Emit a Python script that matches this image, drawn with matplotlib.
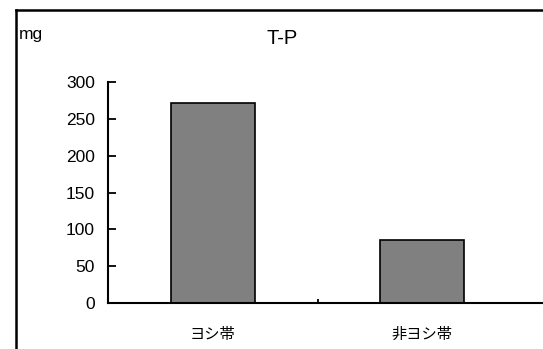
import matplotlib
matplotlib.use("Agg")
import matplotlib.pyplot as plt
from matplotlib.lines import Line2D

plt.rcParams['font.family'] = ['Liberation Sans', 'Noto Sans CJK JP', 'DejaVu Sans']

categories = ["ヨシ帯", "非ヨシ帯"]
values = [272, 86]
y_ticks = [0, 50, 100, 150, 200, 250, 300]

W, H = 543, 349
fig = plt.figure(figsize=(W / 100, H / 100), dpi=100)

# plot area in pixels: left 108, bottom 303, top 82; it runs past the right edge
left, right, top, bottom = 108, 570, 82, 303
ax = fig.add_axes([left / W, 1 - bottom / H, (right - left) / W, (bottom - top) / H])

x = list(range(len(categories)))
ax.bar(x, values, width=0.4, color="#808080", edgecolor="black", linewidth=1.2)

cat_px = 209.5
ax.set_xlim(-0.5, -0.5 + (right - left) / cat_px)
ax.set_ylim(0, 300)

ax.set_yticks(y_ticks)
ax.tick_params(axis="y", direction="in", length=6, width=1.3, pad=9.5, labelsize=12.5)

# category divider tick and labels
ax.set_xticks([0.5])
ax.set_xticklabels([""])
ax.tick_params(axis="x", which="major", direction="in", length=3, width=1.3)
ax.set_xticks(x, minor=True)
ax.set_xticklabels(categories, minor=True, fontsize=11)
ax.tick_params(axis="x", which="minor", length=0, pad=18)

for s in ["top", "right"]:
    ax.spines[s].set_visible(False)
ax.spines["left"].set_linewidth(1.5)
ax.spines["bottom"].set_linewidth(1.5)

fig.text(282 / W, 1 - 39 / H, "T-P", ha="center", va="center", fontsize=14.5)
fig.text(19 / W, 1 - 35 / H, "mg", ha="left", va="center", fontsize=12.5)

# chart area frame (only left and top edges are inside the picture)
fig.add_artist(Line2D([15.5 / W, 15.5 / W], [-0.05, 1 - 9.5 / H], color="black", linewidth=1.8,
                      transform=fig.transFigure))
fig.add_artist(Line2D([15.5 / W, 1.05], [1 - 9.5 / H, 1 - 9.5 / H], color="black", linewidth=1.8,
                      transform=fig.transFigure))

fig.savefig("out.png", dpi=100)
